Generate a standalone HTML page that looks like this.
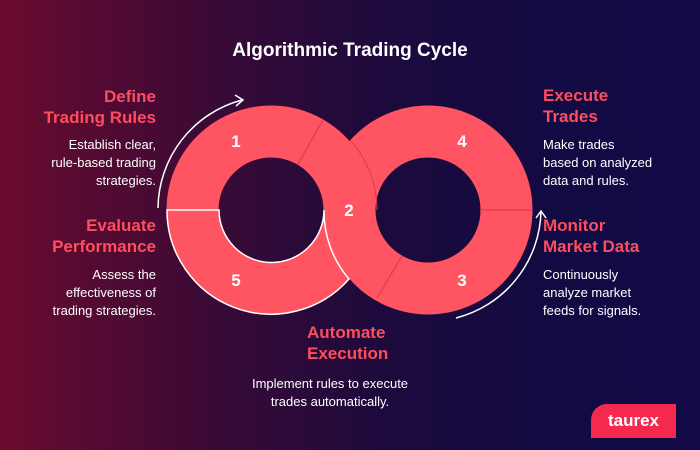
<!DOCTYPE html>
<html><head><style>
*{margin:0;padding:0}
body{width:700px;height:450px;overflow:hidden;font-family:"Liberation Sans",sans-serif;
background:linear-gradient(90deg,#6a0b2e 0%,#3a0a36 30%,#1c0a3c 55%,#120a42 80%,#120a48 100%);position:relative}
.h{position:absolute;color:#ff4d5e;font-weight:bold;font-size:17px;line-height:21px}
.b{position:absolute;color:#fff;font-size:13px;line-height:18px}
.l{right:544px;text-align:right}
.r{left:543px}
</style></head><body>
<div style="position:absolute;top:40px;left:0;width:700px;text-align:center;color:#fff;font-weight:bold;font-size:19px">Algorithmic Trading Cycle</div>
<svg width="700" height="450" style="position:absolute;left:0;top:0">
<circle cx="271" cy="210" r="78.5" fill="none" stroke="#ff5563" stroke-width="52"/>
<circle cx="428" cy="210" r="78.5" fill="none" stroke="#ff5563" stroke-width="52"/>
<path d="M167 210 A104 104 0 0 0 349 279 A104 104 0 0 1 324 210 A52 52 0 0 1 219 210 Z" fill="#ff5563" stroke="#fff" stroke-width="1.5"/>
<line x1="298" y1="164" x2="323" y2="120" stroke="#e03a4c" stroke-width="1.2"/>
<line x1="480" y1="210" x2="532" y2="210" stroke="#e03a4c" stroke-width="1.2"/>
<line x1="377" y1="298" x2="402" y2="256" stroke="#e03a4c" stroke-width="1.2"/>
<path d="M350 140 A104 104 0 0 1 377 210" fill="none" stroke="#e03a4c" stroke-width="1"/>
<path d="M158 208 A113 113 0 0 1 242 100" fill="none" stroke="#fff" stroke-width="1.5"/>
<path d="M235 95 L243 100 L236 106" fill="none" stroke="#fff" stroke-width="1.5"/>
<path d="M456 318 A113 113 0 0 0 541 212" fill="none" stroke="#fff" stroke-width="1.5"/>
<path d="M536 218 L541 211 L546 218" fill="none" stroke="#fff" stroke-width="1.5"/>
<g fill="#fff" font-family="Liberation Sans" font-weight="bold" font-size="17" text-anchor="middle">
<text x="236" y="147">1</text><text x="349" y="216">2</text><text x="462" y="286">3</text><text x="462" y="147">4</text><text x="236" y="286">5</text>
</g>
</svg>
<div class="h l" style="top:86px">Define<br>Trading Rules</div>
<div class="b l" style="top:136px">Establish clear,<br>rule-based trading<br>strategies.</div>
<div class="h l" style="top:215px">Evaluate<br>Performance</div>
<div class="b l" style="top:266px">Assess the<br>effectiveness of<br>trading strategies.</div>
<div class="h r" style="top:85px">Execute<br>Trades</div>
<div class="b r" style="top:136px">Make trades<br>based on analyzed<br>data and rules.</div>
<div class="h r" style="top:215px">Monitor<br>Market Data</div>
<div class="b r" style="top:266px">Continuously<br>analyze market<br>feeds for signals.</div>
<div class="h" style="top:322px;left:307px">Automate<br>Execution</div>
<div class="b" style="top:375px;left:230px;width:200px;text-align:center">Implement rules to execute<br>trades automatically.</div>
<div style="position:absolute;left:591px;top:404px;width:85px;height:34px;background:#f5294e;border-radius:16px 0 0 0;color:#fff;font-weight:bold;font-size:17px;line-height:34px;text-align:center">taurex</div>
</body></html>
